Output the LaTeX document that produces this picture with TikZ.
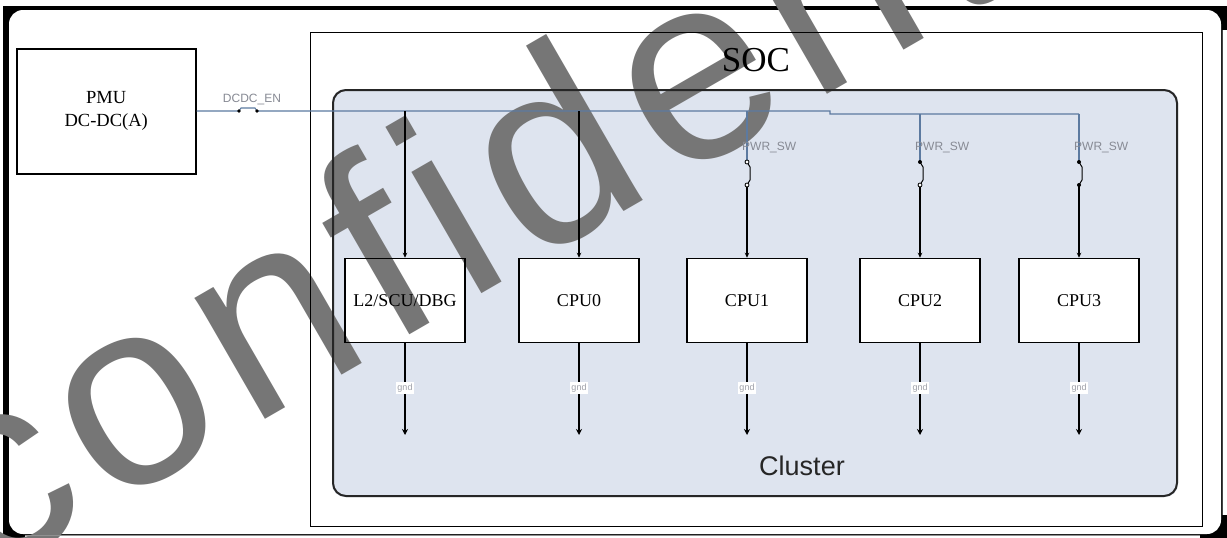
\documentclass[tikz,border=0pt]{standalone}
\usepackage{fontspec}
\setmainfont{Liberation Serif}
\setsansfont{Liberation Sans}
\newfontfamily\wmfont{Liberation Sans}
\newcommand{\wk}{\kern15pt}
\usetikzlibrary{arrows.meta}
\pgfdeclarelayer{bg}
\pgfdeclarelayer{wm}
\pgfsetlayers{bg,wm,main}
\definecolor{clusterfill}{RGB}{222,228,239}
\definecolor{busblue}{RGB}{92,122,160}
\definecolor{lblgray}{RGB}{135,138,148}
\definecolor{wmgray}{RGB}{118,118,118}
\definecolor{framegray}{RGB}{70,70,70}
\begin{document}
\begin{tikzpicture}[x=1pt,y=-1pt,
  box/.style={draw=black,line width=1.5pt,minimum width=120pt,minimum height=84pt,inner sep=0pt,font=\fontsize{18}{20}\selectfont},
  bus/.style={draw=busblue,line width=1.1pt},
  wire/.style={draw=black,line width=1.3pt},
  tipin/.style={-{Stealth[length=5pt,width=4.5pt]}},
  tipdown/.style={-{Stealth[length=6pt,width=6pt]}},
  lbl/.style={text=lblgray,font=\sffamily\fontsize{12}{12}\selectfont,inner sep=0pt},
  gndlbl/.style={fill=white,text=lblgray!80,font=\sffamily\fontsize{9}{9}\selectfont,inner sep=1.5pt},
  opendot/.style={draw=black,fill=white,line width=0.8pt},
  fulldot/.style={fill=black},
]
\useasboundingbox (0,0) rectangle (1227,538);

% containers
\node[draw=black,line width=1.5pt,minimum width=179pt,minimum height=125pt,anchor=north west,inner sep=0pt,align=center,font=\fontsize{18.5}{23}\selectfont] (pmu) at (16,48) {PMU\\DC-DC(A)};
\node[draw=black,line width=1.3pt,minimum width=892pt,minimum height=494pt,anchor=north west,inner sep=0pt] (soc) at (310,32) {};
\node[font=\fontsize{35}{35}\selectfont] (soclbl) at (756,60) {SOC};
\node[draw=black!85,line width=2pt,rounded corners=13pt,minimum width=844pt,minimum height=406pt,anchor=north west,inner sep=0pt] (cluster) at (332,89) {};
\node[font=\sffamily\fontsize{27}{27}\selectfont,text=black!85] (clbl) at (802,466) {Cluster};

% blocks
\node[box] (l2) at (405,300.5) {L2/SCU/DBG};
\node[box] (cpu0) at (579,300.5) {CPU0};
\node[box] (cpu1) at (747,300.5) {CPU1};
\node[box] (cpu2) at (920,300.5) {CPU2};
\node[box] (cpu3) at (1079,300.5) {CPU3};

% background fills
\begin{pgfonlayer}{bg}
\fill[white] (0,0) rectangle (1227,538);
\fill[black] (3,6) rectangle (1227,538);
\fill[white,rounded corners=14pt] (9,10) rectangle (1221,534);
\fill[white] (1223,30) rectangle (1227,515);
\fill[white] (25,536) rectangle (1200,538);
\fill[white] (soc.north west) rectangle (soc.south east);
\fill[clusterfill,rounded corners=13pt] (cluster.north west) rectangle (cluster.south east);
\foreach \b in {l2,cpu0,cpu1,cpu2,cpu3}{\fill[white] (\b.north west) rectangle (\b.south east);}
\end{pgfonlayer}
\draw[framegray,line width=0.8pt] (1222,30) -- (1222,515);
\draw[framegray!60,line width=0.6pt] (25,535) -- (1200,535);

% watermark
\begin{pgfonlayer}{wm}
\node[rotate=30,anchor=base west,inner sep=0pt,text=wmgray,font=\wmfont\fontsize{265}{265}\selectfont] (wmark) at (-19,583) {c\wk o\wk n\wk f\wk i\wk d\wk e\wk n\wk t\wk i\wk a\wk l};
\end{pgfonlayer}

% bus
\coordinate (j1) at (239,111);
\coordinate (j2) at (257,111);
\coordinate (stp) at (830,111);
\coordinate (stp2) at (830,114);
\coordinate (bend) at (1079,114);
\draw[bus] (pmu.east |- j1) -- (j1) -- ++(2,-3) -- ++(14,0) -- (j2) -- (stp) -- (stp2) -- (bend);
\fill[black] (j1) circle (1.8pt);
\fill[black] (j2) circle (1.8pt);
\node[lbl] (dcdclbl) at (252,100) {DCDC\_EN};

% drops without switch
\draw[wire,tipin] (l2.north |- j1) -- (l2.north);
\draw[wire,tipin] (cpu0.north |- j1) -- (cpu0.north);

% switched drops
\coordinate (sa) at (0,162);
\coordinate (sb) at (0,185);
\coordinate (swl) at (0,148);
\foreach \b/\busy/\ta/\tb in {cpu1/j1/opendot/opendot, cpu2/stp2/fulldot/opendot, cpu3/stp2/fulldot/fulldot}{
  \draw[bus] (\b.north |- \busy) -- (\b.north |- sa);
  \draw[wire,line width=1pt] (\b.north |- sa) -- ++(3,5) -- ++(0,13) -- (\b.north |- sb);
  \draw[wire,tipin] (\b.north |- sb) -- (\b.north);
  \path[\ta] (\b.north |- sa) circle (2pt);
  \path[\tb] (\b.north |- sb) circle (2pt);
  \node[lbl,anchor=west] at ([xshift=-5pt]\b.north |- swl) {PWR\_SW};
}

% bottom outputs
\coordinate (gy) at (0,435);
\coordinate (ly) at (0,388);
\foreach \b in {l2,cpu0,cpu1,cpu2,cpu3}{
  \draw[wire,tipdown] (\b.south) -- (\b.south |- gy);
  \node[gndlbl] at (\b.south |- ly) {gnd};
}
\end{tikzpicture}
\end{document}
